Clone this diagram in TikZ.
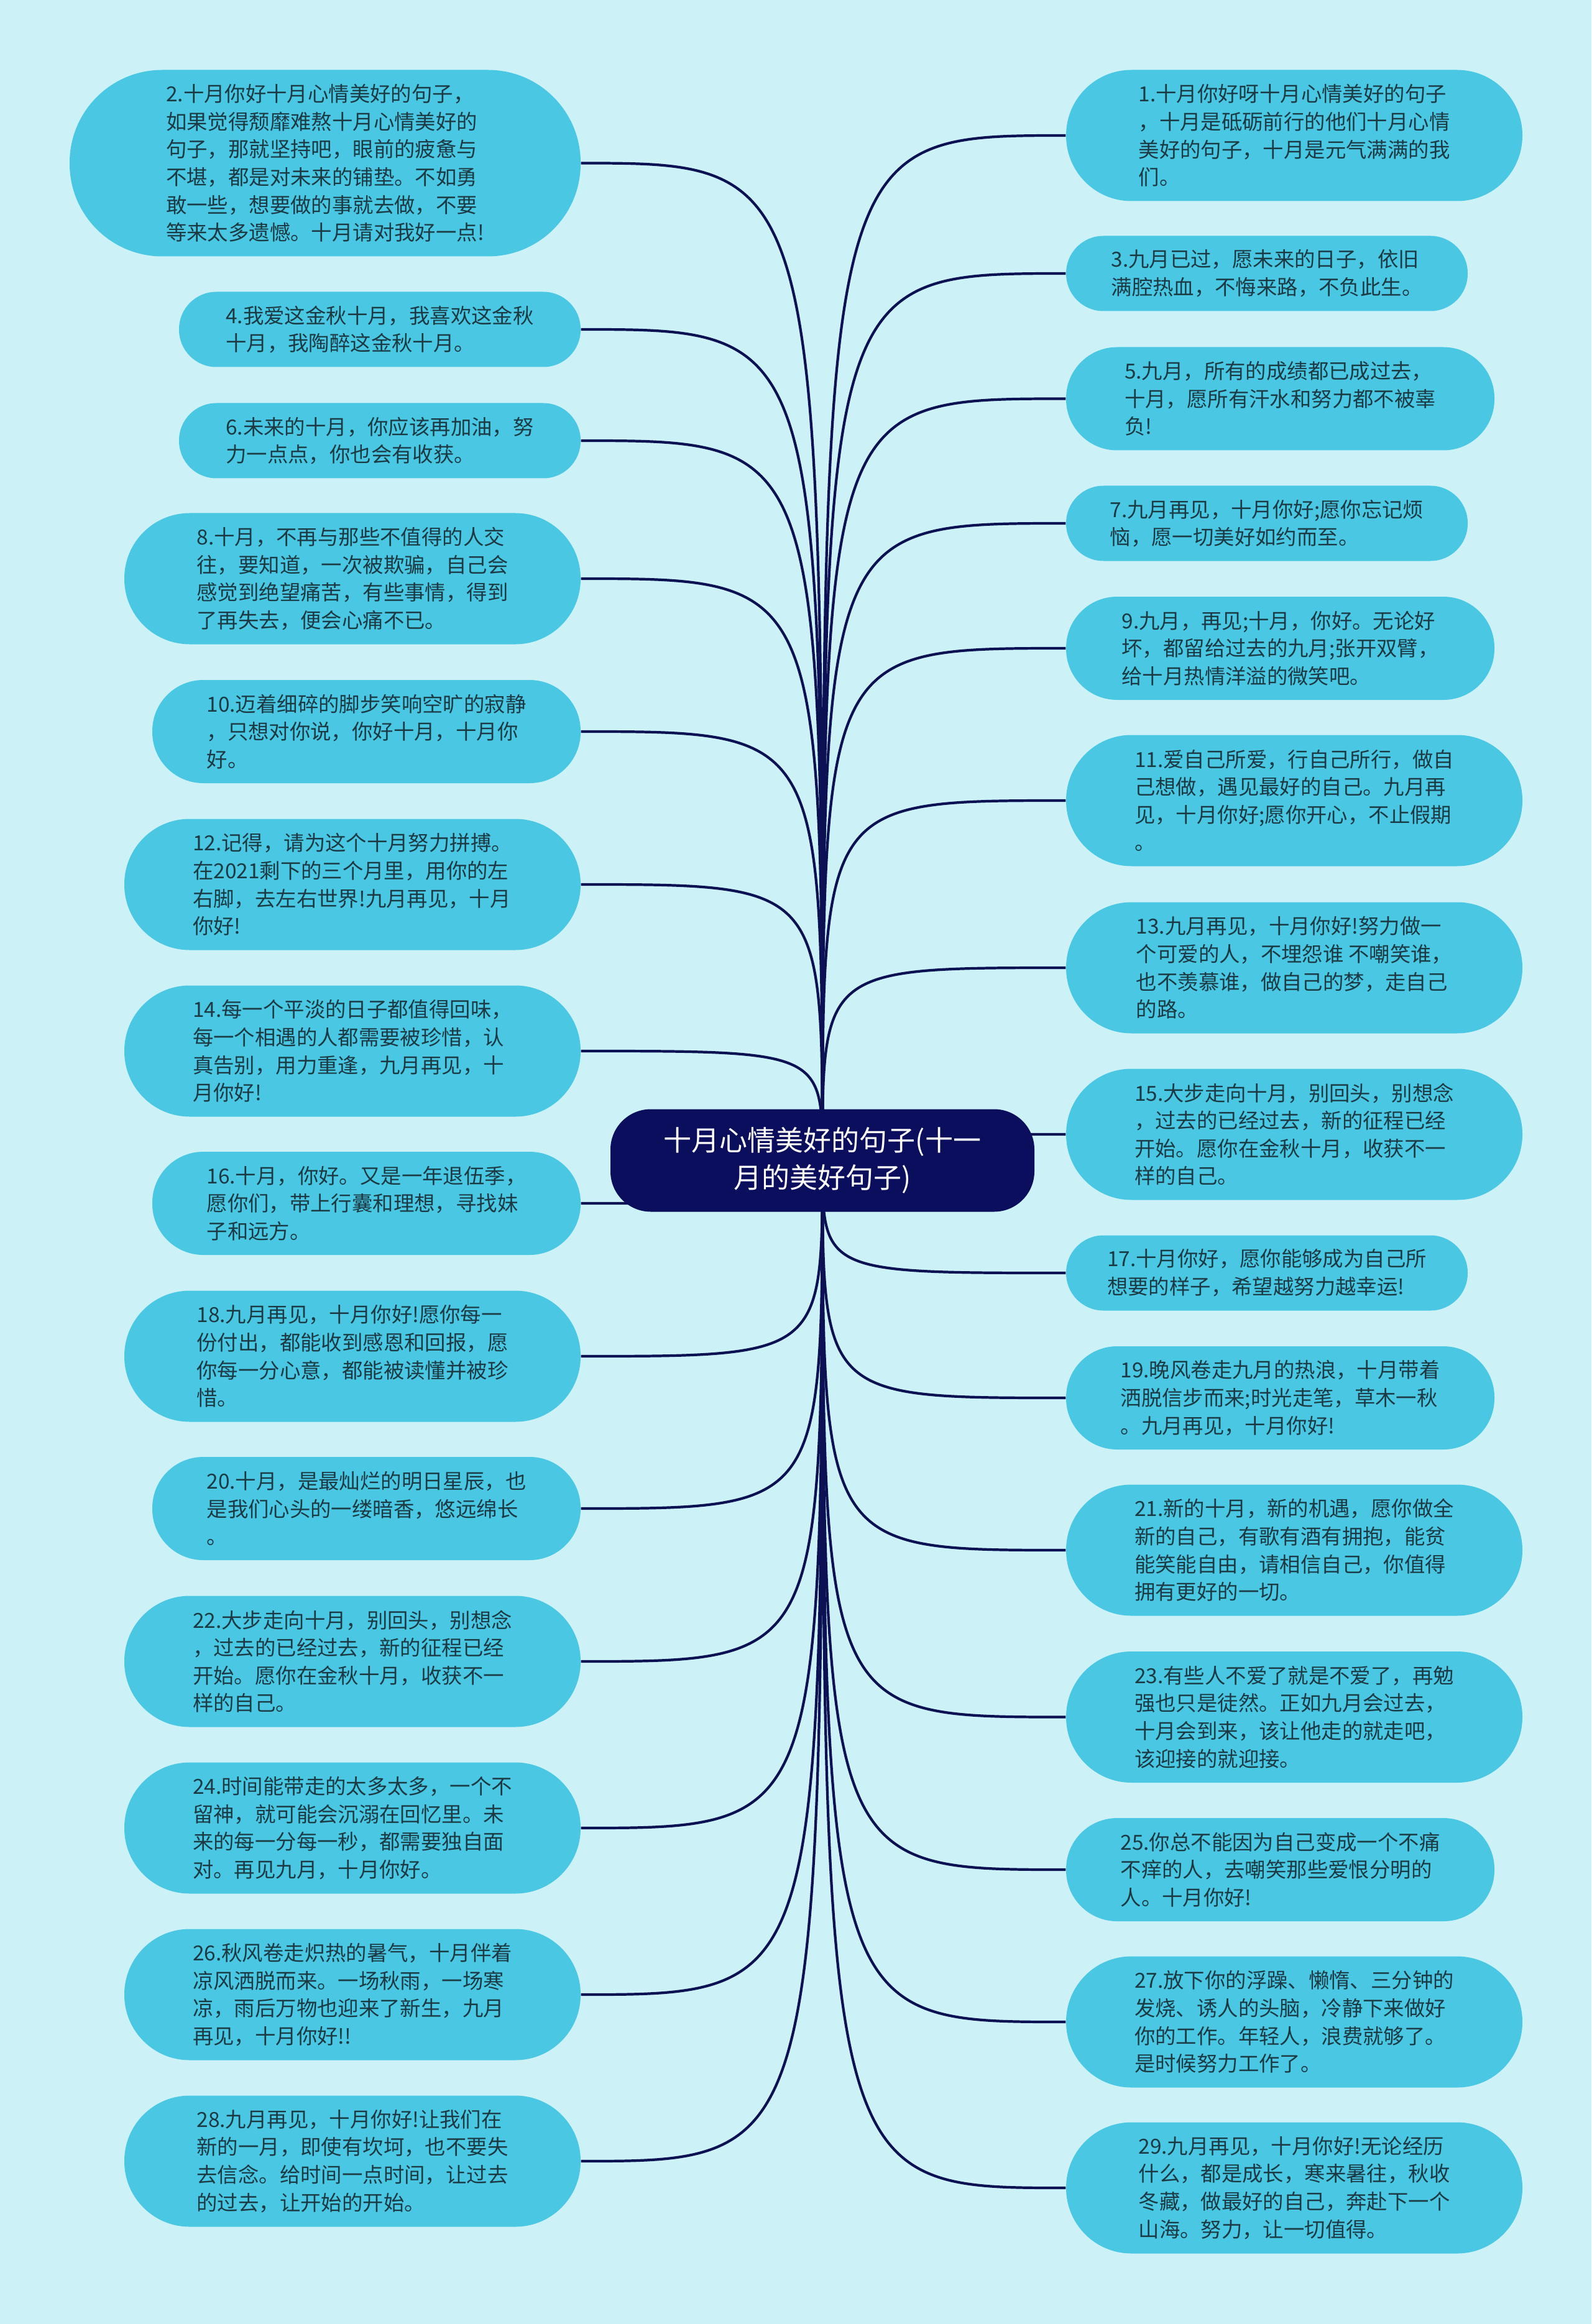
\documentclass[tikz,border=0pt]{standalone}
\usepackage{fontspec}
\usepackage{tikz}
\newfontfamily\cjk{Noto Sans CJK SC}
\definecolor{bgcol}{HTML}{CCF2F8}
\definecolor{leafcol}{HTML}{4AC8E3}
\definecolor{inkcol}{HTML}{1C3A44}
\definecolor{hubcol}{HTML}{0A0E5C}
\definecolor{linkcol}{HTML}{0B1152}
\tikzset{
	leaf/.style={fill=leafcol, text=inkcol, align=left, inner sep=0pt, font=\cjk\fontsize{9.5}{12.7}\selectfont},
	leaftwo/.style={leaf, minimum width=6.46cm, minimum height=1.21cm, rounded corners=0.6cm},
	leafthree/.style={leaf, minimum width=6.89cm, minimum height=1.66cm, rounded corners=0.82cm},
	leaffour/.style={leaf, minimum width=7.34cm, minimum height=2.11cm, rounded corners=1.05cm},
	leafsix/.style={leaf, minimum width=8.22cm, minimum height=3.0cm, rounded corners=1.49cm},
	hubbox/.style={fill=hubcol, text=white, align=center, inner sep=0pt, minimum width=6.82cm, minimum height=1.65cm, rounded corners=0.65cm, font=\cjk\fontsize{12.8}{17}\selectfont},
	link/.style={draw=linkcol, line width=1.2pt}
}

\begin{document}
\begin{tikzpicture}
			\fill [bgcol] (0,0) rectangle (25.6,-37.39);
			\useasboundingbox (0,0) rectangle (25.6,-37.39);
			\coordinate (hub) at (13.23,-18.67);
			\node [leafsix] (n2) at(5.23,-2.625) {2.十月你好十月心情美好的句子，\\如果觉得颓靡难熬十月心情美好的\\句子，那就坚持吧，眼前的疲惫与\\不堪，都是对未来的铺垫。不如勇\\敢一些，想要做的事就去做，不要\\等来太多遗憾。十月请对我好一点!};
			\node [leaftwo] (n4) at(6.11,-5.30) {4.我爱这金秋十月，我喜欢这金秋\\十月，我陶醉这金秋十月。};
			\node [leaftwo] (n6) at(6.11,-7.09) {6.未来的十月，你应该再加油，努\\力一点点，你也会有收获。};
			\node [leaffour] (n8) at(5.67,-9.31) {8.十月，不再与那些不值得的人交\\往，要知道，一次被欺骗，自己会\\感觉到绝望痛苦，有些事情，得到\\了再失去，便会心痛不已。};
			\node [leafthree] (n10) at(5.895,-11.77) {10.迈着细碎的脚步笑响空旷的寂静\\，只想对你说，你好十月，十月你\\好。};
			\node [leaffour] (n12) at(5.67,-14.23) {12.记得，请为这个十月努力拼搏。\\在2021剩下的三个月里，用你的左\\右脚，去左右世界!九月再见，十月\\你好!};
			\node [leaffour] (n14) at(5.67,-16.91) {14.每一个平淡的日子都值得回味，\\每一个相遇的人都需要被珍惜，认\\真告别，用力重逢，九月再见，十\\月你好!};
			\node [leafthree] (n16) at(5.895,-19.36) {16.十月，你好。又是一年退伍季，\\愿你们，带上行囊和理想，寻找妹\\子和远方。};
			\node [leaffour] (n18) at(5.67,-21.82) {18.九月再见，十月你好!愿你每一\\份付出，都能收到感恩和回报，愿\\你每一分心意，都能被读懂并被珍\\惜。};
			\node [leafthree] (n20) at(5.895,-24.27) {20.十月，是最灿烂的明日星辰，也\\是我们心头的一缕暗香，悠远绵长\\。};
			\node [leaffour] (n22) at(5.67,-26.73) {22.大步走向十月，别回头，别想念\\，过去的已经过去，新的征程已经\\开始。愿你在金秋十月，收获不一\\样的自己。};
			\node [leaffour] (n24) at(5.67,-29.41) {24.时间能带走的太多太多，一个不\\留神，就可能会沉溺在回忆里。未\\来的每一分每一秒，都需要独自面\\对。再见九月，十月你好。};
			\node [leaffour] (n26) at(5.67,-32.09) {26.秋风卷走炽热的暑气，十月伴着\\凉风洒脱而来。一场秋雨，一场寒\\凉，雨后万物也迎来了新生，九月\\再见，十月你好!!};
			\node [leaffour] (n28) at(5.67,-34.77) {28.九月再见，十月你好!让我们在\\新的一月，即使有坎坷，也不要失\\去信念。给时间一点时间，让过去\\的过去，让开始的开始。};
			\node [leaffour] (n1) at(20.82,-2.18) {1.十月你好呀十月心情美好的句子\\，十月是砥砺前行的他们十月心情\\美好的句子，十月是元气满满的我\\们。};
			\node [leaftwo] (n3) at(20.38,-4.40) {3.九月已过，愿未来的日子，依旧\\满腔热血，不悔来路，不负此生。};
			\node [leafthree] (n5) at(20.595,-6.415) {5.九月，所有的成绩都已成过去，\\十月，愿所有汗水和努力都不被辜\\负!};
			\node [leaftwo] (n7) at(20.38,-8.42) {7.九月再见，十月你好;愿你忘记烦\\恼，愿一切美好如约而至。};
			\node [leafthree] (n9) at(20.595,-10.43) {9.九月，再见;十月，你好。无论好\\坏，都留给过去的九月;张开双臂，\\给十月热情洋溢的微笑吧。};
			\node [leaffour] (n11) at(20.82,-12.88) {11.爱自己所爱，行自己所行，做自\\己想做，遇见最好的自己。九月再\\见，十月你好;愿你开心，不止假期\\。};
			\node [leaffour] (n13) at(20.82,-15.57) {13.九月再见，十月你好!努力做一\\个可爱的人，不埋怨谁 不嘲笑谁，\\也不羡慕谁，做自己的梦，走自己\\的路。};
			\node [leaffour] (n15) at(20.82,-18.25) {15.大步走向十月，别回头，别想念\\，过去的已经过去，新的征程已经\\开始。愿你在金秋十月，收获不一\\样的自己。};
			\node [leaftwo] (n17) at(20.38,-20.48) {17.十月你好，愿你能够成为自己所\\想要的样子，希望越努力越幸运!};
			\node [leafthree] (n19) at(20.595,-22.49) {19.晚风卷走九月的热浪，十月带着\\洒脱信步而来;时光走笔，草木一秋\\。九月再见，十月你好!};
			\node [leaffour] (n21) at(20.82,-24.94) {21.新的十月，新的机遇，愿你做全\\新的自己，有歌有酒有拥抱，能贫\\能笑能自由，请相信自己，你值得\\拥有更好的一切。};
			\node [leaffour] (n23) at(20.82,-27.625) {23.有些人不爱了就是不爱了，再勉\\强也只是徒然。正如九月会过去，\\十月会到来，该让他走的就走吧，\\该迎接的就迎接。};
			\node [leafthree] (n25) at(20.595,-30.08) {25.你总不能因为自己变成一个不痛\\不痒的人，去嘲笑那些爱恨分明的\\人。十月你好!};
			\node [leaffour] (n27) at(20.82,-32.53) {27.放下你的浮躁、懒惰、三分钟的\\发烧、诱人的头脑，冷静下来做好\\你的工作。年轻人，浪费就够了。\\是时候努力工作了。};
			\node [leaffour] (n29) at(20.82,-35.20) {29.九月再见，十月你好!无论经历\\什么，都是成长，寒来暑往，秋收\\冬藏，做最好的自己，奔赴下一个\\山海。努力，让一切值得。};
			\draw [link] (hub) .. controls (hub |- n2.east) and (hub |- n2.east) .. (n2.east);
			\draw [link] (hub) .. controls (hub |- n4.east) and (hub |- n4.east) .. (n4.east);
			\draw [link] (hub) .. controls (hub |- n6.east) and (hub |- n6.east) .. (n6.east);
			\draw [link] (hub) .. controls (hub |- n8.east) and (hub |- n8.east) .. (n8.east);
			\draw [link] (hub) .. controls (hub |- n10.east) and (hub |- n10.east) .. (n10.east);
			\draw [link] (hub) .. controls (hub |- n12.east) and (hub |- n12.east) .. (n12.east);
			\draw [link] (hub) .. controls (hub |- n14.east) and (hub |- n14.east) .. (n14.east);
			\draw [link] (hub) .. controls (hub |- n16.east) and (hub |- n16.east) .. (n16.east);
			\draw [link] (hub) .. controls (hub |- n18.east) and (hub |- n18.east) .. (n18.east);
			\draw [link] (hub) .. controls (hub |- n20.east) and (hub |- n20.east) .. (n20.east);
			\draw [link] (hub) .. controls (hub |- n22.east) and (hub |- n22.east) .. (n22.east);
			\draw [link] (hub) .. controls (hub |- n24.east) and (hub |- n24.east) .. (n24.east);
			\draw [link] (hub) .. controls (hub |- n26.east) and (hub |- n26.east) .. (n26.east);
			\draw [link] (hub) .. controls (hub |- n28.east) and (hub |- n28.east) .. (n28.east);
			\draw [link] (hub) .. controls (hub |- n1.west) and (hub |- n1.west) .. (n1.west);
			\draw [link] (hub) .. controls (hub |- n3.west) and (hub |- n3.west) .. (n3.west);
			\draw [link] (hub) .. controls (hub |- n5.west) and (hub |- n5.west) .. (n5.west);
			\draw [link] (hub) .. controls (hub |- n7.west) and (hub |- n7.west) .. (n7.west);
			\draw [link] (hub) .. controls (hub |- n9.west) and (hub |- n9.west) .. (n9.west);
			\draw [link] (hub) .. controls (hub |- n11.west) and (hub |- n11.west) .. (n11.west);
			\draw [link] (hub) .. controls (hub |- n13.west) and (hub |- n13.west) .. (n13.west);
			\draw [link] (hub) .. controls (hub |- n15.west) and (hub |- n15.west) .. (n15.west);
			\draw [link] (hub) .. controls (hub |- n17.west) and (hub |- n17.west) .. (n17.west);
			\draw [link] (hub) .. controls (hub |- n19.west) and (hub |- n19.west) .. (n19.west);
			\draw [link] (hub) .. controls (hub |- n21.west) and (hub |- n21.west) .. (n21.west);
			\draw [link] (hub) .. controls (hub |- n23.west) and (hub |- n23.west) .. (n23.west);
			\draw [link] (hub) .. controls (hub |- n25.west) and (hub |- n25.west) .. (n25.west);
			\draw [link] (hub) .. controls (hub |- n27.west) and (hub |- n27.west) .. (n27.west);
			\draw [link] (hub) .. controls (hub |- n29.west) and (hub |- n29.west) .. (n29.west);
			\node [hubbox] (root) at (hub) {十月心情美好的句子(十一\\月的美好句子)};
		\end{tikzpicture}
\end{document}
